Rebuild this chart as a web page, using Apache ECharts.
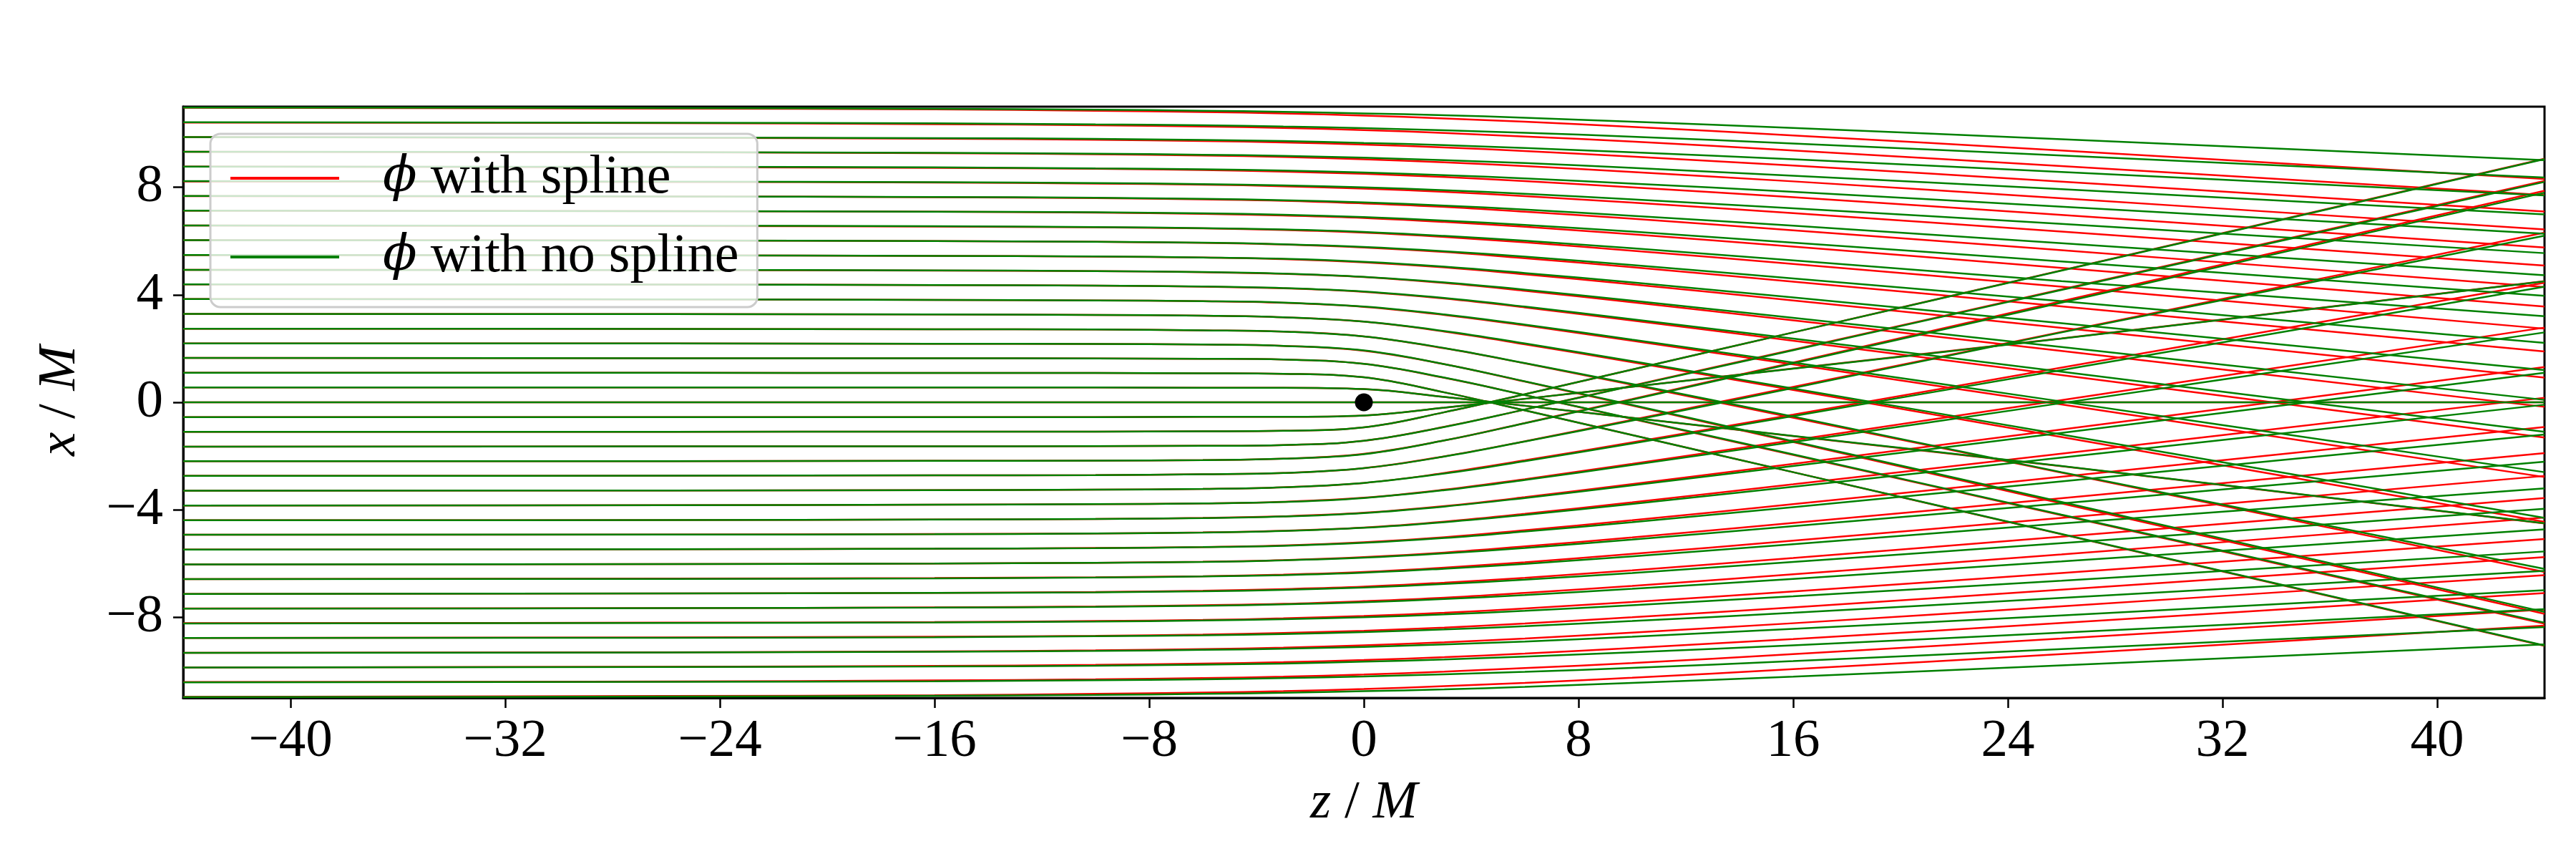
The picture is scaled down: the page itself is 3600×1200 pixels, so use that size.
<!DOCTYPE html>
<html>
<head>
<meta charset="utf-8">
<script src="https://cdn.jsdelivr.net/npm/echarts@6/dist/echarts.min.js"></script>
<style>
html,body{margin:0;padding:0;background:#fff;}
#chart{width:3600px;height:1200px;}
</style>
</head>
<body>
<div id="chart"></div>
<script>
// z positions (z / M) at which every ray is sampled
const Z = [-44, -26, -16, -10, -6, -3, 0, 3, 6, 10, 16, 26, 44];
const X_TICKS = [-40, -32, -24, -16, -8, 0, 8, 16, 24, 32, 40];
const Y_TICKS = [-8, -4, 0, 4, 8];

// ray through the centre (x = 0)
const AXIS_RAY = [0, 0, 0, 0, 0, 0, 0, 0, 0, 0, 0, 0, 0];

// phi with no spline (green), rays starting above the axis
const GREEN_UPPER = [
  [0.55,0.55,0.55,0.55,0.54,0.54,0.49,0.20,-0.13,-0.58,-1.25,-2.37,-4.50],
  [1.10,1.10,1.09,1.09,1.08,1.06,0.93,0.37,-0.30,-1.22,-2.60,-4.90,-9.05],
  [1.65,1.64,1.64,1.63,1.62,1.59,1.43,0.92,0.27,-0.61,-1.94,-4.18,-8.20],
  [2.19,2.19,2.18,2.17,2.15,2.10,1.93,1.42,0.78,-0.10,-1.45,-3.71,-7.80],
  [2.74,2.73,2.72,2.71,2.68,2.63,2.45,2.02,1.46,0.68,-0.53,-2.60,-6.20],
  [3.29,3.28,3.27,3.25,3.22,3.16,3.00,2.65,2.19,1.53,0.51,-1.20,-4.30],
  [3.84,3.83,3.81,3.79,3.76,3.71,3.56,3.27,2.89,2.33,1.48,0.03,-2.60],
  [4.39,4.38,4.36,4.34,4.31,4.25,4.12,3.88,3.56,3.09,2.37,1.14,-1.10],
  [4.93,4.92,4.91,4.88,4.85,4.79,4.67,4.46,4.19,3.78,3.14,2.06,0.09],
  [5.48,5.47,5.45,5.43,5.39,5.34,5.23,5.05,4.81,4.46,3.90,2.94,1.20],
  [6.03,6.02,6.00,5.97,5.94,5.88,5.78,5.62,5.42,5.11,4.61,3.76,2.21],
  [6.58,6.57,6.55,6.52,6.48,6.43,6.34,6.19,6.01,5.73,5.28,4.51,3.20],
  [7.13,7.11,7.09,7.07,7.03,6.98,6.89,6.76,6.60,6.35,5.94,5.24,3.96],
  [7.68,7.66,7.64,7.61,7.57,7.52,7.44,7.32,7.17,6.94,6.57,5.92,4.73],
  [8.23,8.21,8.19,8.16,8.12,8.07,8.00,7.89,7.76,7.55,7.22,6.64,5.55],
  [8.77,8.76,8.74,8.70,8.67,8.62,8.55,8.45,8.33,8.14,7.83,7.28,6.27],
  [9.32,9.31,9.28,9.25,9.21,9.17,9.10,9.01,8.90,8.72,8.43,7.93,6.99],
  [9.87,9.85,9.83,9.80,9.76,9.72,9.65,9.57,9.46,9.30,9.04,8.57,7.70],
  [10.42,10.40,10.38,10.34,10.31,10.26,10.20,10.12,10.03,9.88,9.63,9.18,8.36],
  [10.97,10.95,10.92,10.89,10.85,10.81,10.75,10.68,10.59,10.44,10.21,9.79,9.01]
];

// phi with no spline (green), rays starting below the axis
const GREEN_LOWER = [
  [-0.55,-0.55,-0.55,-0.55,-0.54,-0.54,-0.49,-0.20,0.13,0.58,1.25,2.37,4.50],
  [-1.10,-1.10,-1.09,-1.09,-1.08,-1.06,-0.93,-0.37,0.30,1.22,2.60,4.90,9.05],
  [-1.65,-1.64,-1.64,-1.63,-1.62,-1.59,-1.43,-0.92,-0.27,0.61,1.94,4.18,8.20],
  [-2.19,-2.19,-2.18,-2.17,-2.15,-2.10,-1.93,-1.42,-0.78,0.10,1.45,3.71,7.80],
  [-2.74,-2.73,-2.72,-2.71,-2.68,-2.63,-2.45,-2.02,-1.46,-0.68,0.53,2.60,6.20],
  [-3.29,-3.28,-3.27,-3.25,-3.22,-3.16,-3.00,-2.65,-2.19,-1.53,-0.51,1.20,4.30],
  [-3.84,-3.83,-3.81,-3.79,-3.76,-3.71,-3.56,-3.27,-2.89,-2.33,-1.48,-0.03,2.60],
  [-4.39,-4.38,-4.36,-4.34,-4.31,-4.25,-4.12,-3.88,-3.56,-3.09,-2.37,-1.14,1.10],
  [-4.93,-4.92,-4.91,-4.88,-4.85,-4.79,-4.67,-4.46,-4.19,-3.78,-3.14,-2.06,-0.09],
  [-5.48,-5.47,-5.45,-5.43,-5.39,-5.34,-5.23,-5.05,-4.81,-4.46,-3.90,-2.94,-1.20],
  [-6.03,-6.02,-6.00,-5.97,-5.94,-5.88,-5.78,-5.62,-5.42,-5.11,-4.61,-3.76,-2.21],
  [-6.58,-6.57,-6.55,-6.52,-6.48,-6.43,-6.34,-6.19,-6.01,-5.73,-5.28,-4.51,-3.20],
  [-7.13,-7.11,-7.09,-7.07,-7.03,-6.98,-6.89,-6.76,-6.60,-6.35,-5.94,-5.24,-3.96],
  [-7.68,-7.66,-7.64,-7.61,-7.57,-7.52,-7.44,-7.32,-7.17,-6.94,-6.57,-5.92,-4.73],
  [-8.23,-8.21,-8.19,-8.16,-8.12,-8.07,-8.00,-7.89,-7.76,-7.55,-7.22,-6.64,-5.55],
  [-8.77,-8.76,-8.74,-8.70,-8.67,-8.62,-8.55,-8.45,-8.33,-8.14,-7.83,-7.28,-6.27],
  [-9.32,-9.31,-9.28,-9.25,-9.21,-9.17,-9.10,-9.01,-8.90,-8.72,-8.43,-7.93,-6.99],
  [-9.87,-9.85,-9.83,-9.80,-9.76,-9.72,-9.65,-9.57,-9.46,-9.30,-9.04,-8.57,-7.70],
  [-10.42,-10.40,-10.38,-10.34,-10.31,-10.26,-10.20,-10.12,-10.03,-9.88,-9.63,-9.18,-8.36],
  [-10.97,-10.95,-10.92,-10.89,-10.85,-10.81,-10.75,-10.68,-10.59,-10.44,-10.21,-9.79,-9.01]
];

// phi with spline (red), rays starting above the axis
const RED_UPPER = [
  [0.55,0.55,0.55,0.55,0.54,0.54,0.49,0.20,-0.13,-0.58,-1.26,-2.38,-4.51],
  [1.10,1.10,1.09,1.09,1.08,1.06,0.93,0.37,-0.30,-1.22,-2.60,-4.91,-9.06],
  [1.65,1.64,1.64,1.63,1.62,1.59,1.43,0.91,0.27,-0.62,-1.96,-4.20,-8.24],
  [2.19,2.19,2.18,2.17,2.15,2.10,1.92,1.42,0.77,-0.12,-1.48,-3.76,-7.87],
  [2.74,2.73,2.72,2.71,2.68,2.63,2.45,2.01,1.45,0.65,-0.57,-2.62,-6.31],
  [3.29,3.28,3.27,3.25,3.22,3.16,3.00,2.63,2.16,1.49,0.46,-1.29,-4.45],
  [3.84,3.83,3.81,3.79,3.76,3.70,3.55,3.25,2.86,2.29,1.41,-0.08,-2.78],
  [4.39,4.38,4.36,4.34,4.30,4.24,4.11,3.86,3.53,3.04,2.29,1.01,-1.31],
  [4.93,4.92,4.90,4.88,4.84,4.78,4.66,4.44,4.15,3.72,3.05,1.91,-0.17],
  [5.48,5.47,5.45,5.42,5.39,5.33,5.21,5.02,4.76,4.39,3.79,2.77,0.92],
  [6.03,6.02,6.00,5.97,5.93,5.87,5.76,5.59,5.36,5.03,4.49,3.57,1.89],
  [6.58,6.56,6.54,6.51,6.47,6.41,6.31,6.15,5.95,5.64,5.15,4.30,2.74],
  [7.13,7.11,7.09,7.06,7.01,6.95,6.86,6.71,6.53,6.25,5.79,5.00,3.56],
  [7.67,7.66,7.63,7.60,7.55,7.50,7.40,7.27,7.09,6.83,6.40,5.66,4.29],
  [8.22,8.20,8.18,8.14,8.10,8.04,7.95,7.83,7.67,7.43,7.04,6.35,5.09],
  [8.77,8.75,8.72,8.69,8.64,8.58,8.50,8.38,8.23,8.00,7.63,6.97,5.76],
  [9.32,9.30,9.27,9.23,9.18,9.13,9.04,8.93,8.79,8.57,8.22,7.59,6.43],
  [9.87,9.84,9.81,9.77,9.72,9.67,9.59,9.48,9.35,9.14,8.81,8.21,7.10],
  [10.41,10.39,10.35,10.31,10.26,10.21,10.13,10.02,9.89,9.70,9.37,8.79,7.71],
  [10.96,10.93,10.90,10.85,10.80,10.75,10.67,10.56,10.44,10.25,9.93,9.37,8.31]
];

// phi with spline (red), rays starting below the axis
const RED_LOWER = [
  [-0.55,-0.55,-0.55,-0.55,-0.54,-0.54,-0.49,-0.20,0.13,0.58,1.26,2.38,4.51],
  [-1.10,-1.10,-1.09,-1.09,-1.08,-1.06,-0.93,-0.37,0.30,1.22,2.60,4.91,9.06],
  [-1.65,-1.64,-1.64,-1.63,-1.62,-1.59,-1.43,-0.91,-0.27,0.62,1.96,4.20,8.24],
  [-2.19,-2.19,-2.18,-2.17,-2.15,-2.10,-1.92,-1.42,-0.77,0.12,1.48,3.76,7.87],
  [-2.74,-2.73,-2.72,-2.71,-2.68,-2.63,-2.45,-2.01,-1.45,-0.65,0.57,2.62,6.31],
  [-3.29,-3.28,-3.27,-3.25,-3.22,-3.16,-3.00,-2.63,-2.16,-1.49,-0.46,1.29,4.45],
  [-3.84,-3.83,-3.81,-3.79,-3.76,-3.70,-3.55,-3.25,-2.86,-2.29,-1.41,0.08,2.78],
  [-4.39,-4.38,-4.36,-4.34,-4.30,-4.24,-4.11,-3.86,-3.53,-3.04,-2.29,-1.01,1.31],
  [-4.93,-4.92,-4.90,-4.88,-4.84,-4.78,-4.66,-4.44,-4.15,-3.72,-3.05,-1.91,0.17],
  [-5.48,-5.47,-5.45,-5.42,-5.39,-5.33,-5.21,-5.02,-4.76,-4.39,-3.79,-2.77,-0.92],
  [-6.03,-6.02,-6.00,-5.97,-5.93,-5.87,-5.76,-5.59,-5.36,-5.03,-4.49,-3.57,-1.89],
  [-6.58,-6.56,-6.54,-6.51,-6.47,-6.41,-6.31,-6.15,-5.95,-5.64,-5.15,-4.30,-2.74],
  [-7.13,-7.11,-7.09,-7.06,-7.01,-6.95,-6.86,-6.71,-6.53,-6.25,-5.79,-5.00,-3.56],
  [-7.67,-7.66,-7.63,-7.60,-7.55,-7.50,-7.40,-7.27,-7.09,-6.83,-6.40,-5.66,-4.29],
  [-8.22,-8.20,-8.18,-8.14,-8.10,-8.04,-7.95,-7.83,-7.67,-7.43,-7.04,-6.35,-5.09],
  [-8.77,-8.75,-8.72,-8.69,-8.64,-8.58,-8.50,-8.38,-8.23,-8.00,-7.63,-6.97,-5.76],
  [-9.32,-9.30,-9.27,-9.23,-9.18,-9.13,-9.04,-8.93,-8.79,-8.57,-8.22,-7.59,-6.43],
  [-9.87,-9.84,-9.81,-9.77,-9.72,-9.67,-9.59,-9.48,-9.35,-9.14,-8.81,-8.21,-7.10],
  [-10.41,-10.39,-10.35,-10.31,-10.26,-10.21,-10.13,-10.02,-9.89,-9.70,-9.37,-8.79,-7.71],
  [-10.96,-10.93,-10.90,-10.85,-10.80,-10.75,-10.67,-10.56,-10.44,-10.25,-9.93,-9.37,-8.31]
];

const BLACK_HOLE = [[0, 0]];
const NAME_RED = 'ϕ with spline';
const NAME_GREEN = 'ϕ with no spline';

const FONT = 'Liberation Serif';
const RED = '#ff0000';
const GREEN = '#008000';

function ray(name, color, vals) {
  return {
    type: 'line', name: name, data: Z.map((z, i) => [z, vals[i]]),
    smooth: 0.4, symbol: 'none', showSymbol: false, clip: true,
    lineStyle: { color: color, width: 2.5 }, itemStyle: { color: color },
    emphasis: { disabled: true }, silent: true, animation: false
  };
}

const series = [];
RED_UPPER.forEach(v => series.push(ray(NAME_RED, RED, v)));
RED_LOWER.forEach(v => series.push(ray(NAME_RED, RED, v)));
series.push(ray(NAME_RED, RED, AXIS_RAY));
GREEN_UPPER.forEach(v => series.push(ray(NAME_GREEN, GREEN, v)));
GREEN_LOWER.forEach(v => series.push(ray(NAME_GREEN, GREEN, v)));
series.push(ray(NAME_GREEN, GREEN, AXIS_RAY));
series.push({
  type: 'scatter', name: 'bh', data: BLACK_HOLE, symbolSize: 25, z: 10,
  itemStyle: { color: '#000000', opacity: 1 }, silent: true, animation: false
});

const minus = v => String(v).replace('-', '\u2212');

const chart = echarts.init(document.getElementById('chart'), null, { renderer: 'canvas' });
chart.setOption({
  animation: false,
  backgroundColor: '#ffffff',
  grid: { left: 256, right: 44, top: 149, bottom: 225, show: true, borderColor: '#000', borderWidth: 3, containLabel: false },
  xAxis: {
    type: 'value', min: -44, max: 44,
    axisLine: { show: true, onZero: false, lineStyle: { color: '#000', width: 3 } },
    axisTick: { show: true, length: 14, customValues: X_TICKS, lineStyle: { color: '#000', width: 2.5 } },
    axisLabel: { customValues: X_TICKS, formatter: minus, fontFamily: FONT, fontSize: 75, color: '#000', margin: 24 },
    splitLine: { show: false }
  },
  yAxis: {
    type: 'value', min: -11, max: 11,
    axisLine: { show: true, onZero: false, lineStyle: { color: '#000', width: 3 } },
    axisTick: { show: true, length: 14, customValues: Y_TICKS, lineStyle: { color: '#000', width: 2.5 } },
    axisLabel: { customValues: Y_TICKS, formatter: minus, fontFamily: FONT, fontSize: 75, color: '#000', margin: 28 },
    splitLine: { show: false }
  },
  legend: {
    data: [NAME_RED, NAME_GREEN],
    orient: 'vertical', left: 294, top: 187,
    padding: [20, 26, 28, 28], itemGap: 26,
    itemWidth: 152, itemHeight: 4, icon: 'rect',
    backgroundColor: 'rgba(255,255,255,0.8)', borderColor: '#cccccc', borderWidth: 3, borderRadius: 14,
    formatter: n => n === NAME_RED ? '{i|ϕ} with spline' : '{i|ϕ} with no spline',
    textStyle: { fontFamily: FONT, fontSize: 76, color: '#000', lineHeight: 84, padding: [0, 0, 0, 56],
      rich: { i: { fontStyle: 'italic', fontFamily: 'DejaVu Serif', fontSize: 70, lineHeight: 84 } } },
    selectedMode: false
  },
  graphic: [
    { type: 'text', x: 1906, y: 1122,
      style: { text: '{i|z} / {i|M}', fill: '#000', align: 'center', verticalAlign: 'middle',
        font: '75px "Liberation Serif"',
        rich: { i: { fontStyle: 'italic', fontFamily: FONT, fontSize: 75 } } } },
    { type: 'text', x: 84, y: 560, rotation: Math.PI / 2,
      style: { text: '{i|x} / {i|M}', fill: '#000', align: 'center', verticalAlign: 'middle',
        font: '75px "Liberation Serif"',
        rich: { i: { fontStyle: 'italic', fontFamily: FONT, fontSize: 75 } } } }
  ],
  series: series
});
</script>
</body>
</html>
